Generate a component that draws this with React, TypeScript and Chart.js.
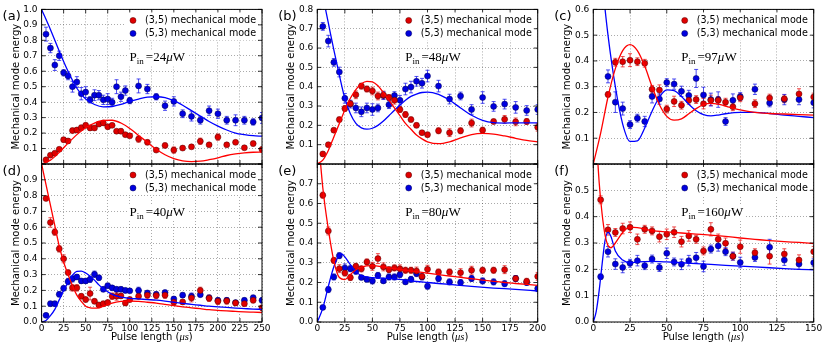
import React, { useEffect, useRef } from 'react';
import { Chart, registerables } from 'chart.js';

Chart.register(...registerables);

const SANS = '"DejaVu Sans", "Noto Sans", sans-serif';
const SERIF = '"Liberation Serif", "DejaVu Serif", serif';

// ---------- Panel (a): Pin = 24 uW ----------
const aX = [5, 10, 15, 20, 25, 30, 35, 40, 45, 50, 55, 60, 65, 70, 75, 80, 85, 90, 95, 100, 110, 120, 130, 140, 150, 160, 170, 180, 190, 200, 210, 220, 230, 240, 250];
const aRed = [0.027, 0.057, 0.07, 0.095, 0.157, 0.149, 0.216, 0.22, 0.235, 0.25, 0.233, 0.233, 0.258, 0.266, 0.241, 0.25, 0.212, 0.212, 0.19, 0.182, 0.161, 0.14, 0.09, 0.12, 0.09, 0.103, 0.111, 0.147, 0.124, 0.174, 0.124, 0.14, 0.105, 0.132, 0.094];
const aRedErr = [0.01, 0.01, 0.01, 0.012, 0.015, 0.015, 0.015, 0.015, 0.015, 0.015, 0.015, 0.012, 0.015, 0.015, 0.015, 0.012, 0.012, 0.015, 0.012, 0.012, 0.02, 0.015, 0.01, 0.015, 0.02, 0.012, 0.012, 0.02, 0.01, 0.02, 0.012, 0.012, 0.012, 0.015, 0.015];
const aBlue = [0.84, 0.75, 0.64, 0.7, 0.59, 0.57, 0.5, 0.53, 0.455, 0.465, 0.415, 0.445, 0.445, 0.415, 0.42, 0.4, 0.5, 0.435, 0.475, 0.41, 0.505, 0.485, 0.435, 0.377, 0.405, 0.325, 0.308, 0.283, 0.345, 0.325, 0.283, 0.283, 0.283, 0.272, 0.298];
const aBlueErr = [0.045, 0.03, 0.035, 0.03, 0.02, 0.025, 0.035, 0.035, 0.04, 0.035, 0.02, 0.035, 0.03, 0.03, 0.035, 0.025, 0.045, 0.03, 0.03, 0.02, 0.045, 0.03, 0.02, 0.03, 0.03, 0.025, 0.03, 0.025, 0.03, 0.03, 0.025, 0.035, 0.025, 0.02, 0.035];
const aFitX = [0, 10, 20, 30, 40, 50, 60, 70, 80, 90, 100, 110, 120, 130, 140, 150, 160, 170, 180, 190, 200, 210, 220, 230, 240, 250];
const aFitRed = [0, 0.025, 0.075, 0.135, 0.19, 0.235, 0.265, 0.282, 0.283, 0.265, 0.23, 0.185, 0.14, 0.095, 0.06, 0.035, 0.02, 0.015, 0.018, 0.028, 0.04, 0.055, 0.065, 0.072, 0.076, 0.077];
const aFitBlue = [1.0, 0.87, 0.73, 0.6, 0.49, 0.42, 0.385, 0.37, 0.372, 0.385, 0.405, 0.42, 0.432, 0.435, 0.43, 0.41, 0.38, 0.345, 0.31, 0.275, 0.245, 0.22, 0.2, 0.19, 0.183, 0.18];

// ---------- Panel (b): Pin = 48 uW ----------
const bX = [5, 10, 15, 20, 25, 30, 35, 40, 45, 50, 55, 60, 65, 70, 75, 80, 85, 90, 95, 100, 110, 120, 130, 140, 150, 160, 170, 180, 190, 200];
const bRed = [0.052, 0.1, 0.175, 0.23, 0.287, 0.312, 0.358, 0.403, 0.388, 0.378, 0.352, 0.357, 0.344, 0.33, 0.282, 0.256, 0.23, 0.2, 0.162, 0.152, 0.172, 0.162, 0.172, 0.212, 0.175, 0.22, 0.231, 0.218, 0.22, 0.19];
const bRedErr = [0.01, 0.01, 0.01, 0.012, 0.015, 0.015, 0.02, 0.015, 0.015, 0.02, 0.02, 0.02, 0.015, 0.02, 0.015, 0.015, 0.012, 0.012, 0.01, 0.012, 0.015, 0.02, 0.015, 0.02, 0.015, 0.012, 0.02, 0.02, 0.015, 0.02];
const bBlue = [0.712, 0.636, 0.526, 0.476, 0.34, 0.31, 0.29, 0.27, 0.29, 0.282, 0.29, 0.354, 0.307, 0.354, 0.33, 0.388, 0.398, 0.428, 0.418, 0.455, 0.403, 0.336, 0.352, 0.282, 0.344, 0.298, 0.31, 0.293, 0.277, 0.282];
const bBlueErr = [0.02, 0.03, 0.02, 0.025, 0.025, 0.02, 0.025, 0.025, 0.025, 0.03, 0.02, 0.02, 0.02, 0.02, 0.025, 0.03, 0.03, 0.025, 0.025, 0.03, 0.03, 0.025, 0.02, 0.025, 0.03, 0.025, 0.025, 0.03, 0.025, 0.025];
const bFitX = [0, 5, 10, 15, 20, 25, 30, 35, 40, 45, 50, 55, 60, 65, 70, 75, 80, 85, 90, 95, 100, 110, 120, 130, 140, 150, 160, 170, 180, 190, 200];
const bFitRed = [0, 0.02, 0.07, 0.14, 0.21, 0.28, 0.34, 0.385, 0.415, 0.428, 0.425, 0.405, 0.37, 0.33, 0.29, 0.25, 0.21, 0.18, 0.15, 0.13, 0.115, 0.105, 0.115, 0.135, 0.152, 0.158, 0.155, 0.145, 0.133, 0.122, 0.115];
const bFitBlue = [1.0, 0.87, 0.73, 0.59, 0.46, 0.34, 0.26, 0.21, 0.187, 0.18, 0.185, 0.2, 0.222, 0.25, 0.278, 0.305, 0.33, 0.35, 0.362, 0.37, 0.372, 0.36, 0.33, 0.29, 0.252, 0.226, 0.214, 0.212, 0.213, 0.213, 0.213];

// ---------- Panel (c): Pin = 97 uW ----------
const cX = [10, 15, 20, 25, 30, 35, 40, 45, 50, 55, 60, 65, 70, 75, 80, 85, 90, 95, 100, 110, 120, 130, 140, 150];
const cRed = [0.27, 0.395, 0.397, 0.403, 0.397, 0.391, 0.29, 0.287, 0.213, 0.243, 0.228, 0.247, 0.25, 0.234, 0.247, 0.247, 0.24, 0.222, 0.257, 0.234, 0.256, 0.253, 0.272, 0.26];
const cRedErr = [0.01, 0.015, 0.02, 0.025, 0.015, 0.015, 0.015, 0.02, 0.015, 0.02, 0.015, 0.015, 0.015, 0.02, 0.02, 0.015, 0.015, 0.015, 0.015, 0.015, 0.015, 0.015, 0.02, 0.015];
const cBlue = [0.34, 0.24, 0.215, 0.153, 0.178, 0.165, 0.262, 0.252, 0.316, 0.31, 0.282, 0.266, 0.332, 0.268, 0.25, 0.25, 0.165, 0.247, 0.262, 0.29, 0.237, 0.25, 0.25, 0.238];
const cBlueErr = [0.025, 0.04, 0.025, 0.015, 0.015, 0.02, 0.025, 0.02, 0.015, 0.02, 0.02, 0.02, 0.035, 0.03, 0.025, 0.03, 0.015, 0.025, 0.015, 0.02, 0.015, 0.02, 0.02, 0.02];
const cFitX = [0, 5, 10, 15, 20, 25, 30, 35, 40, 45, 50, 55, 60, 65, 70, 75, 80, 85, 90, 100, 110, 120, 130, 140, 150];
const cFitRed = [0, 0.12, 0.26, 0.37, 0.44, 0.463, 0.44, 0.38, 0.3, 0.23, 0.185, 0.17, 0.175, 0.195, 0.215, 0.23, 0.235, 0.232, 0.225, 0.21, 0.2, 0.196, 0.194, 0.192, 0.19];
const cFitBlue = [1.0, 0.76, 0.5, 0.3, 0.155, 0.088, 0.09, 0.14, 0.205, 0.26, 0.288, 0.285, 0.262, 0.232, 0.207, 0.192, 0.187, 0.19, 0.195, 0.2, 0.2, 0.196, 0.19, 0.185, 0.18];

// ---------- Panel (d): Pin = 40 uW ----------
const dX = [5, 10, 15, 20, 25, 30, 35, 40, 45, 50, 55, 60, 65, 70, 75, 80, 85, 90, 95, 100, 110, 120, 130, 140, 150, 160, 170, 180, 190, 200, 210, 220, 230, 240, 250];
const dRed = [0.782, 0.63, 0.569, 0.463, 0.4, 0.313, 0.216, 0.216, 0.163, 0.142, 0.18, 0.131, 0.108, 0.116, 0.123, 0.163, 0.163, 0.165, 0.12, 0.142, 0.163, 0.17, 0.167, 0.17, 0.125, 0.127, 0.152, 0.2, 0.15, 0.131, 0.133, 0.12, 0.116, 0.137, 0.09];
const dRedErr = [0.01, 0.03, 0.02, 0.02, 0.025, 0.015, 0.02, 0.02, 0.015, 0.015, 0.04, 0.015, 0.015, 0.015, 0.015, 0.02, 0.025, 0.015, 0.015, 0.015, 0.02, 0.02, 0.02, 0.02, 0.02, 0.015, 0.025, 0.02, 0.02, 0.02, 0.02, 0.015, 0.015, 0.015, 0.015];
const dBlue = [0.042, 0.116, 0.116, 0.175, 0.213, 0.256, 0.273, 0.285, 0.26, 0.26, 0.27, 0.302, 0.28, 0.207, 0.23, 0.216, 0.207, 0.207, 0.2, 0.197, 0.2, 0.184, 0.175, 0.186, 0.146, 0.17, 0.163, 0.173, 0.154, 0.137, 0.137, 0.123, 0.137, 0.154, 0.137];
const dBlueErr = [0.01, 0.015, 0.015, 0.015, 0.015, 0.02, 0.02, 0.015, 0.015, 0.015, 0.02, 0.02, 0.015, 0.015, 0.015, 0.015, 0.015, 0.015, 0.015, 0.01, 0.02, 0.015, 0.015, 0.015, 0.015, 0.015, 0.02, 0.01, 0.015, 0.015, 0.015, 0.01, 0.015, 0.015, 0.015];
const dFitX = [0, 5, 10, 15, 20, 25, 30, 35, 40, 45, 50, 55, 60, 65, 70, 80, 90, 100, 110, 120, 130, 140, 150, 160, 170, 180, 190, 200, 210, 220, 230, 240, 250];
const dFitRed = [1.0, 0.87, 0.74, 0.61, 0.48, 0.38, 0.3, 0.23, 0.17, 0.13, 0.1, 0.09, 0.088, 0.09, 0.1, 0.12, 0.13, 0.133, 0.13, 0.125, 0.12, 0.112, 0.103, 0.096, 0.09, 0.084, 0.078, 0.074, 0.07, 0.067, 0.064, 0.062, 0.06];
const dFitBlue = [0, 0.01, 0.04, 0.08, 0.14, 0.2, 0.25, 0.295, 0.32, 0.322, 0.31, 0.29, 0.265, 0.235, 0.21, 0.175, 0.158, 0.15, 0.146, 0.142, 0.138, 0.132, 0.125, 0.118, 0.112, 0.106, 0.1, 0.096, 0.092, 0.088, 0.085, 0.082, 0.08];

// ---------- Panel (e): Pin = 80 uW ----------
const eX = [5, 10, 15, 20, 25, 30, 35, 40, 45, 50, 55, 60, 65, 70, 75, 80, 85, 90, 95, 100, 110, 120, 130, 140, 150, 160, 170, 180, 190, 200];
const eRed = [0.642, 0.461, 0.312, 0.27, 0.248, 0.225, 0.282, 0.269, 0.304, 0.282, 0.321, 0.279, 0.265, 0.274, 0.269, 0.262, 0.262, 0.258, 0.231, 0.267, 0.253, 0.253, 0.25, 0.262, 0.262, 0.262, 0.265, 0.22, 0.206, 0.231];
const eRedErr = [0.015, 0.02, 0.015, 0.02, 0.015, 0.015, 0.015, 0.015, 0.015, 0.02, 0.025, 0.02, 0.015, 0.015, 0.02, 0.015, 0.015, 0.02, 0.015, 0.02, 0.015, 0.015, 0.02, 0.02, 0.015, 0.015, 0.02, 0.015, 0.015, 0.02];
const eBlue = [0.074, 0.164, 0.228, 0.336, 0.274, 0.27, 0.257, 0.225, 0.215, 0.208, 0.236, 0.208, 0.228, 0.228, 0.24, 0.203, 0.216, 0.245, 0.228, 0.181, 0.22, 0.203, 0.2, 0.22, 0.208, 0.203, 0.194, 0.22, 0.2, 0.169];
const eBlueErr = [0.01, 0.015, 0.015, 0.015, 0.02, 0.015, 0.015, 0.01, 0.01, 0.015, 0.015, 0.01, 0.015, 0.015, 0.015, 0.01, 0.015, 0.015, 0.015, 0.015, 0.015, 0.015, 0.015, 0.015, 0.015, 0.015, 0.015, 0.015, 0.015, 0.015];
const eFitRedX = [0, 5, 10, 15, 20, 25, 30, 35, 40, 50, 60, 70, 80, 90, 100, 110, 120, 130, 140, 150, 160, 170, 180, 190, 200];
const eFitRed = [1.0, 0.68, 0.47, 0.31, 0.225, 0.215, 0.24, 0.265, 0.278, 0.285, 0.279, 0.27, 0.262, 0.255, 0.248, 0.24, 0.233, 0.226, 0.219, 0.212, 0.206, 0.2, 0.195, 0.19, 0.185];
const eFitBlueX = [0, 5, 10, 15, 20, 22, 25, 30, 35, 40, 50, 60, 70, 80, 90, 100, 120, 140, 160, 180, 200];
const eFitBlue = [0, 0.07, 0.18, 0.28, 0.34, 0.345, 0.33, 0.29, 0.255, 0.235, 0.225, 0.222, 0.218, 0.212, 0.205, 0.2, 0.19, 0.18, 0.172, 0.165, 0.157];

// ---------- Panel (f): Pin = 160 uW ----------
const fX = [5, 10, 15, 20, 25, 30, 35, 40, 45, 50, 55, 60, 65, 70, 75, 80, 85, 90, 95, 100, 110, 120, 130, 140, 150];
const fRed = [0.464, 0.35, 0.34, 0.355, 0.36, 0.314, 0.352, 0.346, 0.324, 0.333, 0.341, 0.305, 0.327, 0.314, 0.27, 0.352, 0.314, 0.299, 0.25, 0.286, 0.263, 0.25, 0.258, 0.235, 0.267];
const fRedErr = [0.015, 0.02, 0.015, 0.02, 0.02, 0.02, 0.015, 0.015, 0.02, 0.02, 0.02, 0.02, 0.02, 0.015, 0.015, 0.025, 0.02, 0.02, 0.015, 0.025, 0.015, 0.03, 0.02, 0.02, 0.02];
const fBlue = [0.172, 0.267, 0.22, 0.207, 0.223, 0.233, 0.214, 0.239, 0.207, 0.261, 0.228, 0.219, 0.233, 0.244, 0.211, 0.277, 0.289, 0.267, 0.25, 0.226, 0.245, 0.284, 0.235, 0.22, 0.225];
const fBlueErr = [0.01, 0.02, 0.02, 0.02, 0.015, 0.02, 0.015, 0.015, 0.015, 0.02, 0.015, 0.02, 0.02, 0.02, 0.02, 0.015, 0.02, 0.015, 0.015, 0.02, 0.015, 0.03, 0.02, 0.02, 0.015];
const fFitX = [0, 2, 4, 6, 8, 10, 12, 15, 20, 25, 30, 40, 50, 60, 70, 80, 90, 100, 110, 120, 130, 140, 150];
const fFitRed = [1.0, 0.72, 0.53, 0.41, 0.33, 0.29, 0.282, 0.3, 0.34, 0.36, 0.358, 0.347, 0.342, 0.338, 0.334, 0.33, 0.325, 0.319, 0.314, 0.309, 0.305, 0.302, 0.298];
const fFitBlue = [0, 0.04, 0.12, 0.22, 0.31, 0.34, 0.325, 0.27, 0.235, 0.225, 0.228, 0.23, 0.228, 0.225, 0.222, 0.219, 0.215, 0.212, 0.209, 0.206, 0.203, 0.2, 0.198];

const LEGEND_RED = '(3,5) mechanical mode';
const LEGEND_BLUE = '(5,3) mechanical mode';
const Y_TITLE = 'Mechanical mode energy';

const W = 830;
const H = 346;
const YW = 40;
const XH = 20;
const PW = 220.4;
const PH = 158;

interface PanelDef {
  label: string;
  left: number;
  top: number;
  xMax: number;
  yMax: number;
  bottom: boolean;
  power: string;
  x: number[];
  red: number[];
  redErr: number[];
  blue: number[];
  blueErr: number[];
  fitRedX: number[];
  fitRed: number[];
  fitBlueX: number[];
  fitBlue: number[];
}

const panels: PanelDef[] = [
  { label: '(a)', left: 41.6, top: 6, xMax: 250, yMax: 1.0, bottom: false, power: '24', x: aX, red: aRed, redErr: aRedErr, blue: aBlue, blueErr: aBlueErr, fitRedX: aFitX, fitRed: aFitRed, fitBlueX: aFitX, fitBlue: aFitBlue },
  { label: '(b)', left: 317.3, top: 6, xMax: 200, yMax: 0.8, bottom: false, power: '48', x: bX, red: bRed, redErr: bRedErr, blue: bBlue, blueErr: bBlueErr, fitRedX: bFitX, fitRed: bFitRed, fitBlueX: bFitX, fitBlue: bFitBlue },
  { label: '(c)', left: 593.3, top: 6, xMax: 150, yMax: 0.6, bottom: false, power: '97', x: cX, red: cRed, redErr: cRedErr, blue: cBlue, blueErr: cBlueErr, fitRedX: cFitX, fitRed: cFitRed, fitBlueX: cFitX, fitBlue: cFitBlue },
  { label: '(d)', left: 41.6, top: 164, xMax: 250, yMax: 1.0, bottom: true, power: '40', x: dX, red: dRed, redErr: dRedErr, blue: dBlue, blueErr: dBlueErr, fitRedX: dFitX, fitRed: dFitRed, fitBlueX: dFitX, fitBlue: dFitBlue },
  { label: '(e)', left: 317.3, top: 164, xMax: 200, yMax: 0.8, bottom: true, power: '80', x: eX, red: eRed, redErr: eRedErr, blue: eBlue, blueErr: eBlueErr, fitRedX: eFitRedX, fitRed: eFitRed, fitBlueX: eFitBlueX, fitBlue: eFitBlue },
  { label: '(f)', left: 593.3, top: 164, xMax: 150, yMax: 0.6, bottom: true, power: '160', x: fX, red: fRed, redErr: fRedErr, blue: fBlue, blueErr: fBlueErr, fitRedX: fFitX, fitRed: fFitRed, fitBlueX: fFitX, fitBlue: fFitBlue },
];

const RED_LINE = '#ff0000';
const BLUE_LINE = '#0000ff';
const RED_PT = '#e00000';
const BLUE_PT = '#0000e0';
const RED_ERR = 'rgba(235,20,20,0.75)';
const BLUE_ERR = 'rgba(20,20,235,0.75)';
const GRID = 'rgba(0,0,0,0.42)';

function makeDecor(p: PanelDef) {
  return {
    id: 'decor',
    beforeDatasetsDraw(chart: any) {
      const { ctx, chartArea: a } = chart;
      const xs = chart.scales.x;
      const ys = chart.scales.y;
      ctx.save();
      ctx.beginPath();
      ctx.rect(a.left, a.top, a.right - a.left, a.bottom - a.top);
      ctx.clip();
      chart.data.datasets.forEach((ds: any) => {
        if (!ds.errorBars) return;
        ctx.strokeStyle = ds.errColor;
        ctx.lineWidth = 1;
        ds.data.forEach((pt: any, i: number) => {
          const e = ds.errorBars[i];
          const px = xs.getPixelForValue(pt.x);
          const y1 = ys.getPixelForValue(pt.y - e);
          const y2 = ys.getPixelForValue(pt.y + e);
          ctx.beginPath();
          ctx.moveTo(px, y1);
          ctx.lineTo(px, y2);
          ctx.moveTo(px - 2, y1);
          ctx.lineTo(px + 2, y1);
          ctx.moveTo(px - 2, y2);
          ctx.lineTo(px + 2, y2);
          ctx.stroke();
        });
      });
      ctx.restore();
    },
    afterDraw(chart: any) {
      const { ctx, chartArea: a } = chart;
      const xs = chart.scales.x;
      const ys = chart.scales.y;
      ctx.save();
      // frame
      ctx.strokeStyle = '#000';
      ctx.lineWidth = 1;
      ctx.strokeRect(a.left, a.top, a.right - a.left, a.bottom - a.top);
      // inward tick marks on all four sides
      ctx.lineWidth = 0.8;
      ctx.beginPath();
      xs.ticks.forEach((t: any) => {
        const px = xs.getPixelForValue(t.value);
        ctx.moveTo(px, a.bottom);
        ctx.lineTo(px, a.bottom - 4);
        ctx.moveTo(px, a.top);
        ctx.lineTo(px, a.top + 4);
      });
      ys.ticks.forEach((t: any) => {
        const py = ys.getPixelForValue(t.value);
        ctx.moveTo(a.left, py);
        ctx.lineTo(a.left + 4, py);
        ctx.moveTo(a.right, py);
        ctx.lineTo(a.right - 4, py);
      });
      ctx.stroke();

      // legend
      const lx = a.right - 129;
      ctx.fillStyle = '#fff';
      ctx.fillRect(a.right - 136, a.top + 3, 132, 28);
      ctx.font = `9.6px ${SANS}`;
      ctx.textBaseline = 'middle';
      ctx.textAlign = 'left';
      const rows: [string, string, string][] = [
        [LEGEND_RED, RED_PT, '#500000'],
        [LEGEND_BLUE, BLUE_PT, '#000050'],
      ];
      rows.forEach(([txt, fill, edge], i) => {
        const ry = a.top + 11 + i * 13;
        ctx.beginPath();
        ctx.arc(lx, ry, 3, 0, Math.PI * 2);
        ctx.fillStyle = fill;
        ctx.fill();
        ctx.strokeStyle = edge;
        ctx.lineWidth = 0.5;
        ctx.stroke();
        ctx.fillStyle = '#000';
        ctx.fillText(txt, lx + 12, ry + 0.5);
      });

      // P_in annotation
      const px0 = a.left + 88;
      const base = a.top + 52;
      ctx.textBaseline = 'alphabetic';
      ctx.font = `13px ${SERIF}`;
      const wP = ctx.measureText('P').width;
      ctx.font = `9px ${SERIF}`;
      const wIn = ctx.measureText('in').width;
      ctx.font = `13px ${SERIF}`;
      const wEq = ctx.measureText('=' + p.power).width;
      ctx.font = `italic 13px ${SERIF}`;
      const wMu = ctx.measureText('\u03bc').width;
      ctx.font = `13px ${SERIF}`;
      const wW = ctx.measureText('W').width;
      const total = wP + wIn + 2 + wEq + wMu + wW;
      ctx.fillStyle = '#fff';
      ctx.fillRect(px0 - 2, base - 11, total + 4, 16);
      ctx.fillStyle = '#000';
      let cx = px0;
      ctx.font = `13px ${SERIF}`;
      ctx.fillText('P', cx, base);
      cx += wP;
      ctx.font = `9px ${SERIF}`;
      ctx.fillText('in', cx, base + 3);
      cx += wIn + 2;
      ctx.font = `13px ${SERIF}`;
      ctx.fillText('=' + p.power, cx, base);
      cx += wEq;
      ctx.font = `italic 13px ${SERIF}`;
      ctx.fillText('\u03bc', cx, base);
      cx += wMu;
      ctx.font = `13px ${SERIF}`;
      ctx.fillText('W', cx, base);

      // panel label
      ctx.font = `13px ${SANS}`;
      ctx.textBaseline = 'middle';
      ctx.textAlign = 'left';
      ctx.fillText(p.label, a.left - 39, a.top + 7.5);

      // y title
      ctx.save();
      ctx.translate(a.left - 25.5, (a.top + a.bottom) / 2);
      ctx.rotate(-Math.PI / 2);
      ctx.font = `10px ${SANS}`;
      ctx.textAlign = 'center';
      ctx.textBaseline = 'middle';
      ctx.fillText(Y_TITLE, 0, 0);
      ctx.restore();

      // x title
      if (p.bottom) {
        const t1 = 'Pulse length (';
        const t2 = '\u03bcs';
        const t3 = ')';
        ctx.font = `10px ${SANS}`;
        const w1 = ctx.measureText(t1).width;
        const w3 = ctx.measureText(t3).width;
        ctx.font = `italic 10.5px ${SERIF}`;
        const w2 = ctx.measureText(t2).width;
        const tw = w1 + w2 + w3;
        let tx = (a.left + a.right) / 2 - tw / 2;
        const ty = a.bottom + 15;
        ctx.textAlign = 'left';
        ctx.textBaseline = 'middle';
        ctx.font = `10px ${SANS}`;
        ctx.fillText(t1, tx, ty);
        tx += w1;
        ctx.font = `italic 10.5px ${SERIF}`;
        ctx.fillText(t2, tx, ty + 0.5);
        tx += w2;
        ctx.font = `10px ${SANS}`;
        ctx.fillText(t3, tx, ty);
      }
      ctx.restore();
    },
  };
}

function pts(xs: number[], ys: number[]) {
  return xs.map((x, i) => ({ x, y: ys[i] }));
}

function PanelChart({ p }: { p: PanelDef }) {
  const ref = useRef<HTMLCanvasElement | null>(null);
  useEffect(() => {
    if (!ref.current) return;
    const eps = 1e-9;
    const chart = new Chart(ref.current, {
      type: 'scatter',
      data: {
        datasets: [
          {
            data: pts(p.fitRedX, p.fitRed),
            showLine: true,
            borderColor: RED_LINE,
            borderWidth: 1.3,
            pointRadius: 0,
            cubicInterpolationMode: 'monotone',
          } as any,
          {
            data: pts(p.fitBlueX, p.fitBlue),
            showLine: true,
            borderColor: BLUE_LINE,
            borderWidth: 1.3,
            pointRadius: 0,
            cubicInterpolationMode: 'monotone',
          } as any,
          {
            data: pts(p.x, p.red),
            showLine: false,
            pointRadius: 3,
            pointBackgroundColor: RED_PT,
            pointBorderColor: '#500000',
            pointBorderWidth: 0.5,
            clip: 0,
            errorBars: p.redErr,
            errColor: RED_ERR,
          } as any,
          {
            data: pts(p.x, p.blue),
            showLine: false,
            pointRadius: 3,
            pointBackgroundColor: BLUE_PT,
            pointBorderColor: '#000050',
            pointBorderWidth: 0.5,
            clip: 0,
            errorBars: p.blueErr,
            errColor: BLUE_ERR,
          } as any,
        ],
      },
      options: {
        responsive: false,
        animation: false,
        devicePixelRatio: 1,
        events: [],
        layout: {
          padding: {
            left: p.left - YW,
            right: W - (p.left + PW),
            top: p.top,
            bottom: H - (p.top + PH) - XH,
          },
        },
        plugins: {
          legend: { display: false },
          tooltip: { enabled: false },
        },
        scales: {
          x: {
            type: 'linear',
            min: 0,
            max: p.xMax,
            afterFit: (s: any) => {
              s.height = XH;
            },
            ticks: {
              stepSize: 25,
              display: p.bottom,
              autoSkip: false,
              maxRotation: 0,
              padding: 1,
              color: '#000',
              font: { family: SANS, size: 9 },
              callback: (v: any) => String(Math.round(Number(v))),
            },
            grid: { color: GRID, lineWidth: 0.8, drawTicks: false },
            border: { display: false, dash: [1, 2] },
          },
          y: {
            type: 'linear',
            min: 0,
            max: p.yMax,
            afterFit: (s: any) => {
              s.width = YW;
            },
            ticks: {
              stepSize: 0.1,
              autoSkip: false,
              padding: 4,
              color: '#000',
              font: { family: SANS, size: 9 },
              callback: (v: any) => {
                const n = Number(v);
                if (!p.bottom && Math.abs(n) < eps) return '';
                if (p.bottom && n > p.yMax - 1e-6) return '';
                return n.toFixed(1);
              },
            },
            grid: { color: GRID, lineWidth: 0.8, drawTicks: false },
            border: { display: false, dash: [1, 2] },
          },
        },
      } as any,
      plugins: [makeDecor(p)],
    });
    return () => chart.destroy();
  }, [p]);
  return (
    <canvas
      ref={ref}
      width={W}
      height={H}
      style={{ position: 'absolute', left: 0, top: 0, width: W, height: H }}
    />
  );
}

export default function App() {
  useEffect(() => {
    document.body.style.margin = '0';
  }, []);
  return (
    <div style={{ position: 'absolute', left: 0, top: 0, width: W, height: H, background: '#fff', overflow: 'hidden' }}>
      {panels.map((p) => (
        <PanelChart key={p.label} p={p} />
      ))}
    </div>
  );
}
